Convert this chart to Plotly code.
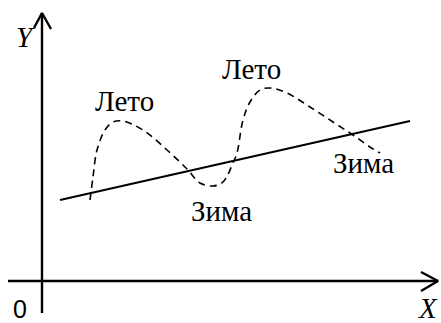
import plotly.graph_objects as go

# Coordinates in picture units (x to the right, y downwards)
# Axes
x_axis_x = [8, 438]
x_axis_y = [281, 281]
y_axis_x = [42, 42]
y_axis_y = [313, 13]
# arrow heads
x_arrow_x = [421, 438, 421]
x_arrow_y = [272, 281, 291]
y_arrow_x = [34, 42, 51]
y_arrow_y = [28, 13, 29]

# Trend line
trend_x = [60, 410]
trend_y = [200, 121]

# Seasonal (dashed) curve
season_x = [90, 93, 97, 105, 113, 123, 143, 167, 187, 200, 213, 223, 233, 237, 243, 250, 260, 270, 287, 310, 333, 353, 370, 380]
season_y = [200, 177, 150, 130, 122, 121, 130, 150, 169, 183, 186, 182, 163, 153, 120, 102, 90, 88, 93, 107, 122, 135, 147, 153]

# Labels
label_text = ["Лето", "Зима", "Лето", "Зима"]
label_x = [124, 221, 251, 363]
label_y = [101, 211, 69, 163]

axis_text = ["Y", "X"]
axis_text_x = [25, 428]
axis_text_y = [37, 308]
origin_text = ["0"]
origin_x = [20]
origin_y = [309]

fig = go.Figure()
line_black = dict(color="black", width=2.4)
for xs, ys in [(x_axis_x, x_axis_y), (y_axis_x, y_axis_y), (x_arrow_x, x_arrow_y), (y_arrow_x, y_arrow_y)]:
    fig.add_trace(go.Scatter(x=xs, y=ys, mode="lines", line=line_black, hoverinfo="skip"))
fig.add_trace(go.Scatter(x=trend_x, y=trend_y, mode="lines", line=dict(color="black", width=2.1), hoverinfo="skip"))

fig.add_trace(go.Scatter(x=season_x, y=season_y, mode="lines",
                         line=dict(color="black", width=1.6, dash="7px,5px", shape="spline", smoothing=1.0),
                         hoverinfo="skip"))

serif = "Liberation Serif"
for t, x, y in zip(label_text, label_x, label_y):
    fig.add_annotation(x=x, y=y, text=t, showarrow=False, xanchor="center", yanchor="middle",
                       font=dict(family=serif, size=29, color="black"))
for t, x, y in zip(axis_text, axis_text_x, axis_text_y):
    fig.add_annotation(x=x, y=y, text="<i>%s</i>" % t, showarrow=False, xanchor="center", yanchor="middle",
                       font=dict(family=serif, size=29, color="black"))
for t, x, y in zip(origin_text, origin_x, origin_y):
    fig.add_annotation(x=x, y=y, text=t, showarrow=False, xanchor="center", yanchor="middle",
                       font=dict(family="Liberation Sans", size=25, color="black"))

fig.update_layout(
    width=441, height=323,
    margin=dict(l=0, r=0, t=0, b=0),
    showlegend=False,
    plot_bgcolor="white", paper_bgcolor="white",
    xaxis=dict(range=[0, 441], visible=False, fixedrange=True),
    yaxis=dict(range=[323, 0], visible=False, fixedrange=True),
)

fig.write_html("out.html", config={"displayModeBar": False},
               post_script="document.body.style.margin='0';document.body.style.overflow='hidden';")
